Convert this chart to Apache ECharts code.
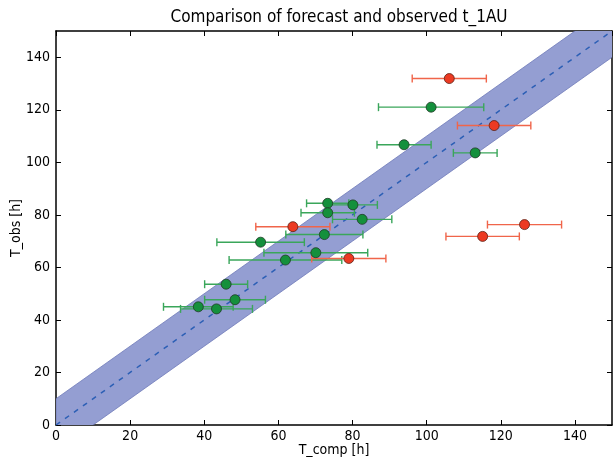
<!DOCTYPE html>
<html>
<head>
    <meta charset="utf-8">
    <script src="https://cdn.jsdelivr.net/npm/echarts@6/dist/echarts.min.js"></script>
    <style>
        body { margin: 0; background: #fff; }
        #main { width: 613px; height: 461px; }
    </style>
</head>
<body>
<div id="main"></div>
<script type="text/javascript">
    // [T_comp, T_obs, error]
    var greenPts = [
        [101.2, 121.0, 14.2],
        [93.9, 106.7, 7.3],
        [113.1, 103.6, 5.9],
        [73.3, 84.4, 5.7],
        [80.1, 83.8, 6.6],
        [73.3, 80.8, 7.2],
        [82.6, 78.3, 8.0],
        [72.4, 72.5, 10.4],
        [55.2, 69.6, 11.8],
        [70.1, 65.6, 14.0],
        [61.9, 62.8, 15.2],
        [45.9, 53.6, 5.8],
        [48.3, 47.7, 8.2],
        [38.4, 45.0, 9.4],
        [43.3, 44.2, 9.7]
    ];
    var redPts = [
        [106.1, 131.9, 10.0],
        [118.2, 114.0, 9.9],
        [63.9, 75.5, 10.0],
        [79.0, 63.4, 10.0],
        [126.4, 76.3, 10.0],
        [115.1, 71.8, 9.9]
    ];
    // y = x line and +-10 h band
    var diagLine = [[0, 0], [150, 150]];
    var bandEdge = [[0, -10], [160, 150], [150, 160], [0, 10]];

    var chart = echarts.init(document.getElementById('main'), null, { renderer: 'canvas' });

    function errBar(color) {
        return function (params, api) {
            var x = api.value(0), y = api.value(1), e = api.value(2);
            var p0 = api.coord([x - e, y]);
            var p1 = api.coord([x + e, y]);
            var h = 4;
            var st = { stroke: color, lineWidth: 1.4 };
            return {
                type: 'group',
                children: [
                    { type: 'line', shape: { x1: p0[0], y1: p0[1], x2: p1[0], y2: p1[1] }, style: st },
                    { type: 'line', shape: { x1: p0[0], y1: p0[1] - h, x2: p0[0], y2: p0[1] + h }, style: st },
                    { type: 'line', shape: { x1: p1[0], y1: p1[1] - h, x2: p1[0], y2: p1[1] + h }, style: st }
                ]
            };
        };
    }

    var tickFont = { fontFamily: 'DejaVu Sans Condensed', fontSize: 14, color: '#000' };
    var axisCommon = {
        type: 'value', min: 0, max: 150, interval: 20,
        axisLine: { show: true, onZero: false, lineStyle: { color: '#000', width: 1.5 } },
        axisTick: { show: true, inside: true, length: 5, lineStyle: { color: '#000' } },
        splitLine: { show: false }
    };

    chart.setOption({
        animation: false,
        title: {
            text: 'Comparison of forecast and observed t_1AU',
            left: 334, top: 4, textAlign: 'center',
            textStyle: { fontFamily: 'DejaVu Sans Condensed', fontSize: 17, fontWeight: 'normal', color: '#000' }
        },
        grid: { left: 56, right: 1, top: 31, bottom: 36, outerBoundsMode: 'none', containLabel: false },
        xAxis: [
            Object.assign({}, axisCommon, {
                position: 'bottom',
                name: 'T_comp [h]', nameLocation: 'middle', nameGap: 18, nameMoveOverlap: false,
                nameTextStyle: tickFont,
                axisLabel: Object.assign({ margin: 4, showMaxLabel: false }, tickFont)
            }),
            Object.assign({}, axisCommon, { position: 'top', axisLabel: { show: false } })
        ],
        yAxis: [
            Object.assign({}, axisCommon, {
                position: 'left',
                name: 'T_obs [h]', nameLocation: 'middle', nameGap: 33, nameMoveOverlap: false,
                nameTextStyle: tickFont,
                axisLabel: Object.assign({ margin: 6, showMaxLabel: false }, tickFont)
            }),
            Object.assign({}, axisCommon, { position: 'right', axisLabel: { show: false } })
        ],
        series: [
            {
                type: 'custom', clip: true, silent: true, z: 1,
                data: [0],
                renderItem: function (params, api) {
                    var pts = bandEdge.map(function (p) { return api.coord(p); });
                    return {
                        type: 'polygon', shape: { points: pts },
                        style: { fill: 'rgb(148,158,210)', stroke: 'rgb(110,122,185)', lineWidth: 0.8 }
                    };
                }
            },
            {
                type: 'line', data: diagLine, symbol: 'none', z: 2,
                lineStyle: { color: '#2c5fb5', width: 1.5, type: [5, 6] }
            },
            {
                type: 'custom', clip: true, z: 3,
                data: greenPts, renderItem: errBar('#3aa65a')
            },
            {
                type: 'custom', clip: true, z: 3,
                data: redPts, renderItem: errBar('#f0654a')
            },
            {
                type: 'scatter', data: greenPts, symbolSize: 10, z: 4,
                itemStyle: { color: '#14903c', borderColor: '#1f3a24', borderWidth: 0.8, opacity: 1 }
            },
            {
                type: 'scatter', data: redPts, symbolSize: 10, z: 4,
                itemStyle: { color: '#ec3a22', borderColor: '#5a1f14', borderWidth: 0.8, opacity: 1 }
            }
        ]
    });
</script>
</body>
</html>
